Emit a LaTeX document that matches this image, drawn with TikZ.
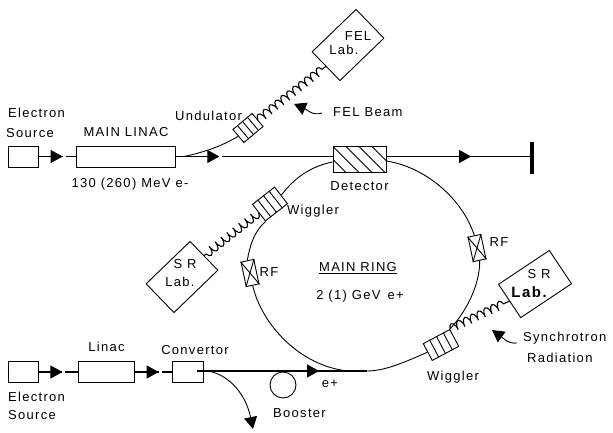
\documentclass[tikz,border=0pt]{standalone}
\usepackage{fontspec}
\setmainfont{Liberation Sans}[LetterSpace=10]
\usetikzlibrary{positioning,calc,arrows.meta,decorations.markings,decorations.pathmorphing}
\tikzset{
  box/.style={rectangle, draw, line width=1pt, inner sep=0pt, minimum width=#1},
  box/.default=30pt,
  lbl/.style={inner sep=0pt, font=\fontsize{13}{15}\selectfont},
  lab/.style={rectangle, draw, line width=.9pt, inner sep=0pt, minimum width=61pt, minimum height=40pt},
  slats/.style={rectangle, draw, line width=.9pt, fill=white, inner sep=0pt},
  crossed/.style={rectangle, draw, line width=.9pt, fill=white, inner sep=0pt, minimum width=13pt, minimum height=25pt, rotate=12},
  hatched/.style={rectangle, draw, line width=1pt, fill=white, inner sep=0pt, path picture={
    \foreach \x in {-40,-27,-14,-1,12}
      \draw[line width=.8pt] ([xshift=\x pt]path picture bounding box.north) -- ++(30pt,-30pt);}},
  beam/.style={line width=1.1pt},
  curved/.style={line width=.9pt},
  wavy/.style={line width=1.1pt, decorate, decoration={coil, aspect=0.35, segment length=7.5pt, amplitude=4.2pt}},
  midtip/.style={postaction={decorate}, decoration={markings, mark=at position #1 with {
    \arrow{Triangle[length=12pt,width=13pt]};}}},
  gaptip/.style={postaction={decorate}, decoration={markings, mark=at position #1 with {
    \fill[white] (0pt,-1.5pt) rectangle (3pt,1.5pt);
    \arrow{Triangle[length=12pt,width=13pt]};}}},
  headtip/.style={-{Triangle[length=12pt,width=13pt]}}
}
\newcommand{\slatlines}[1]{\foreach \f in {0.25,0.5,0.75}
  \draw[line width=.9pt] ($(#1.north west)!\f!(#1.north east)$) -- ($(#1.south west)!\f!(#1.south east)$);}
\newcommand{\crosslines}[1]{
  \draw[line width=.9pt] (#1.north west) -- (#1.south east);
  \draw[line width=.9pt] (#1.north east) -- (#1.south west);}
\begin{document}
\begin{tikzpicture}[x=1pt, y=-1pt]
\useasboundingbox (0,0) rectangle (613,432);

% upper line
\node[box=30pt, minimum height=21pt] (sourcetop) at (23.5,156.5) {};
\node[box=99pt, minimum height=21pt] (mainlinac) [right=37pt of sourcetop] {};
\node[hatched, minimum width=53pt, minimum height=26pt] (detector) at (359.5,159) {};
\node[fill, inner sep=0pt, minimum width=4pt, minimum height=32pt] (endbar) at (532,158) {};
\node[slats, minimum width=25pt, minimum height=17pt, rotate=40] (undulator) at (248,128) {};
\node[lab, rotate=44] (fellab) at (348,45) {};
\coordinate (undstart) at (184,156.5);
\coordinate (beamtail) at (322,113);
\coordinate (beamtip) at (294,104);

% ring
\node[crossed] (rfright) at (477,248) {};
\node[crossed] (rfleft) at (250,273) {};
\node[slats, minimum width=30pt, minimum height=19pt, rotate=28] (wigglerright) at (441,345) {};
\node[slats, minimum width=28pt, minimum height=21pt, rotate=38] (wigglerleft) at (270,204) {};
\node[lab, rotate=44] (srlableft) at (182,277) {};
\node[lab, rotate=33.7] (srlabright) at (535,284) {};
\coordinate (merge) at (367,371);
\coordinate (mergestart) at (348,371);
\coordinate (radtail) at (517,343);
\coordinate (radtip) at (492,330);

% lower line
\node[box=30pt, minimum height=21pt] (sourcelow) at (23.5,372) {};
\node[box=56pt, minimum height=21pt] (linac) [right=39pt of sourcelow] {};
\node[box=31pt, minimum height=21pt] (convertor) [right=37pt of linac] {};
\node[circle, draw, line width=.9pt, inner sep=0pt, minimum size=26pt] (booster) at (283,385) {};
\coordinate (convstart) at (197,371);
\coordinate (branchstart) at (208,371);
\coordinate (branchtip) at (253,429);

\slatlines{undulator}
\slatlines{wigglerleft}
\slatlines{wigglerright}
\crosslines{rfleft}
\crosslines{rfright}

% labels
\node[lbl, anchor=west] (srctoptxt) at (8,113) {Electron};
\node[lbl, anchor=west] (srctoptxtb) at (6,133) {Source};
\node[lbl] (mainlinactxt) [above=9pt of mainlinac] {MAIN LINAC};
\node[lbl] (energytxt) at (130,184) {130 (260) MeV e-};
\node[lbl, anchor=west] (undulatortxt) at (175,116) {Undulator};
\node[lbl] (feltxt) at (358,36) {FEL};
\node[lbl] (fellabtxt) at (344,50) {Lab.};
\node[lbl, anchor=west] (beamtxt) at (333,112) {FEL Beam};
\node[lbl] (detectortxt) [below=9pt of detector] {Detector};
\node[lbl] (wigglerlefttxt) at (313,211) {Wiggler};
\node[lbl] (rflefttxt) at (269,272) {RF};
\node[lbl] (rfrighttxt) at (499,242) {RF};
\node[lbl] (ringtxt) at (358,268) {\underline{MAIN RING}};
\node[lbl] (ringenergytxt) at (360,296) {2 (1) GeV\, e+};
\node[lbl] (srlefttxt) at (185,264) {S R};
\node[lbl] (srleftlabtxt) at (180,282) {Lab.};
\node[lbl] (srrighttxt) at (539,274) {S R};
\node[lbl, font=\fontsize{15}{17}\selectfont\bfseries] (srrightlabtxt) at (529,292) {Lab.};
\node[lbl] (wigglerrighttxt) at (453,377) {Wiggler};
\node[lbl, anchor=west] (synchtxt) at (523,338) {Synchrotron};
\node[lbl, anchor=west] (radtxt) at (527,358) {Radiation};
\node[lbl] (positrontxt) at (330,384) {e+};
\node[lbl] (linactxt) [above=9pt of linac] {Linac};
\node[lbl] (convertortxt) at (195,350) {Convertor};
\node[lbl, anchor=west] (srclowtxt) at (8,397) {Electron};
\node[lbl, anchor=west] (srclowtxtb) at (8,415) {Source};
\node[lbl, anchor=west] (boostertxt) at (273,413) {Booster};

% beams
\draw[beam, gaptip=0.64] (sourcetop) -- (mainlinac);
\draw[beam, gaptip=0.277] (mainlinac.east) -- (mainlinac.east -| detector.west);
\draw[line width=1.6pt] (undstart) -- ++(16pt,0pt);
\draw[beam, midtip=0.59] (detector.east |- mainlinac) -- (endbar.west |- mainlinac);
\draw[curved] (undstart) .. controls (205,152) and (222,146) .. (undulator.west);
\draw[wavy] (undulator.east) -- (fellab.west);
\draw[wavy] (wigglerleft.west) -- (srlableft.east);
\draw[wavy] (wigglerright.north east) -- (srlabright.west);
\draw[curved, headtip] (beamtail) .. controls (312,116) and (308,110) .. (beamtip);
\draw[curved, headtip] (radtail) .. controls (508,344) and (503,338) .. (radtip);

% main ring
\draw[curved] (detector.east |- 0,161) .. controls (425,167) and (462,198) .. (rfright.north);
\draw[curved] (rfright.south) .. controls (480,285) and (466,312) .. (wigglerright.north east);
\draw[curved] (wigglerright.west) .. controls (405,362) and (385,371) .. (merge);
\draw[curved] (mergestart) .. controls (300,366) and (262,325) .. (rfleft.south);
\draw[curved] (rfleft.north) .. controls (250,245) and (254,232) .. (wigglerleft.south west);
\draw[curved] (wigglerleft.east) .. controls (295,177) and (312,166) .. (detector.west |- 0,162);

% lower beams
\draw[beam, gaptip=0.6] (sourcelow) -- (linac);
\draw[beam, gaptip=0.64] (linac) -- (convertor);
\draw[beam, midtip=0.718] (convstart) -- (merge);
\draw[line width=1.6pt] (mergestart) -- (merge);
\draw[curved, headtip] (branchstart) .. controls (230,375) and (246,395) .. (branchtip);
\end{tikzpicture}
\end{document}
